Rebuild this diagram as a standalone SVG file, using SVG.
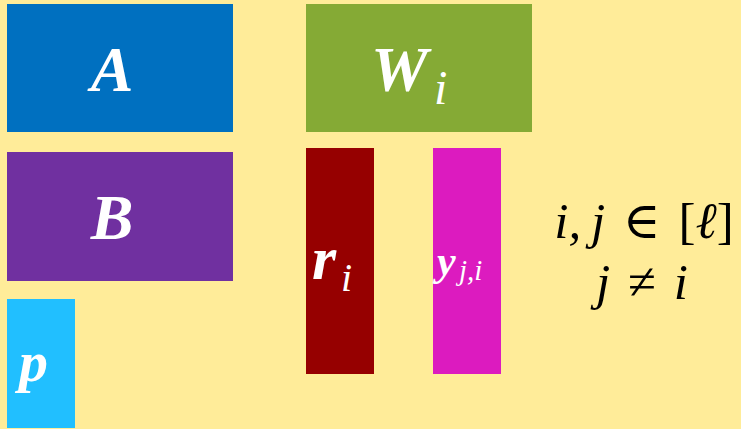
<svg xmlns="http://www.w3.org/2000/svg" width="741" height="429" viewBox="0 0 741 429">
  <style>
    .v { font-family: "Liberation Serif", "DejaVu Serif", serif; font-style: italic; font-weight: bold; fill: #ffffff; }
    .s { font-family: "Liberation Serif", "DejaVu Serif", serif; font-style: italic; font-weight: normal; fill: #ffffff; }
    .m { font-family: "Liberation Serif", "DejaVu Serif", serif; font-style: italic; fill: #000000; font-size: 51px; word-spacing: 5px; }
    .up { font-style: normal; }
    .tight { word-spacing: -3px; }
  </style>
  <rect x="0" y="0" width="741" height="429" fill="#ffec99"/>

  <g id="node-A">
    <rect x="7" y="4" width="226" height="128" fill="#0070c0"/>
    <text class="v" x="112" y="91" font-size="64" text-anchor="middle">A</text>
  </g>

  <g id="node-W">
    <rect x="306" y="4" width="226" height="128" fill="#85aa35"/>
    <text class="v" x="371" y="91" font-size="64">W</text>
    <text class="s" x="434" y="104" font-size="48">i</text>
  </g>

  <g id="node-B">
    <rect x="7" y="152" width="226" height="129" fill="#7030a0"/>
    <text class="v" x="112" y="239" font-size="64" text-anchor="middle">B</text>
  </g>

  <g id="node-p">
    <rect x="7" y="299" width="68" height="129" fill="#21bfff"/>
    <text class="v" x="19" y="381" font-size="58">p</text>
  </g>

  <g id="node-r">
    <rect x="306" y="148" width="68" height="226" fill="#960000"/>
    <text class="v" x="312" y="279" font-size="62">r</text>
    <text class="s" x="341" y="291" font-size="40">i</text>
  </g>

  <g id="node-y">
    <rect x="433" y="148" width="68" height="226" fill="#dc1bbf"/>
    <text class="v" x="437" y="275" font-size="42">y</text>
    <text class="s" x="459" y="280" font-size="29">j,i</text>
  </g>

  <g id="condition">
    <text class="m" x="644" y="238" text-anchor="middle"><tspan class="tight">i, </tspan>j <tspan class="up">∈ [</tspan>ℓ<tspan class="up">]</tspan></text>
    <text class="m" x="642" y="299" text-anchor="middle">j <tspan class="up">≠</tspan> i</text>
  </g>
</svg>
